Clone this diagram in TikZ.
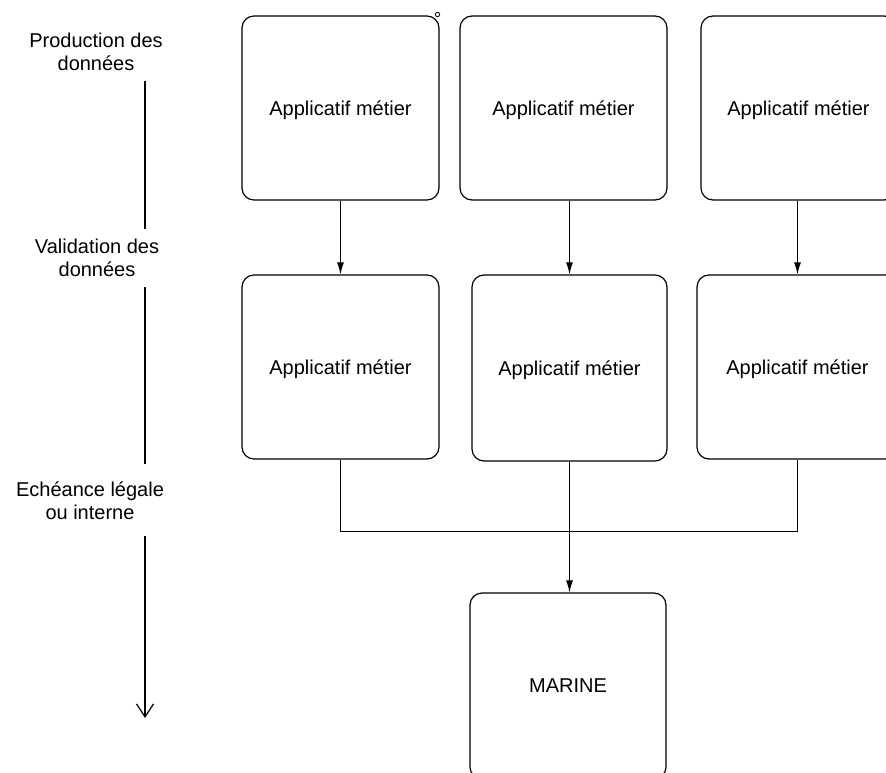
\documentclass[tikz,border=0pt]{standalone}
\usepackage{fontspec}
\setmainfont{Liberation Sans}
\usetikzlibrary{arrows.meta}
\tikzstyle{every node}=[font=\fontsize{20}{23}\selectfont]
\tikzstyle{appli}=[draw=black,line width=1.2pt,rounded corners=12pt,minimum height=184pt,text depth=0pt]
\tikzstyle{etape}=[align=center,inner ysep=10pt]
\tikzstyle{flux}=[line width=1.2pt,-{Latex[length=12pt,width=7pt]}]
\tikzstyle{temps}=[line width=1.2pt]

\begin{document}
\begin{tikzpicture}[x=1pt,y=-1pt]
			\useasboundingbox (0,0) rectangle (886,773);
			\clip (0,0) rectangle (886,773);
			\node [etape] (production) at (96,52) {Production des\\données};
			\node [etape] (validation) at (97,258) {Validation des\\données};
			\node [etape] (echeance) at (90,501) {Echéance légale\\ou interne};
			\coordinate (fin) at (145,718);
			\node [appli,minimum width=197pt] (prod1) at (340.5,108) {Applicatif métier};
			\node [appli,minimum width=207pt] (prod2) at (563.5,108) {Applicatif métier};
			\node [appli,minimum width=195pt] (prod3) at (798.5,108) {Applicatif métier};
			\node [appli,minimum width=197pt] (valid1) at (340.5,367) {Applicatif métier};
			\node [appli,minimum width=195pt,minimum height=186pt] (valid2) at (569.5,368) {Applicatif métier};
			\node [appli,minimum width=201pt] (valid3) at (797.5,367) {Applicatif métier};
			\node [appli,minimum width=196pt,minimum height=186pt] (marine) at (568,686) {MARINE};
			\draw [line width=0.8pt] (437.5,14.5) circle (2.2pt);
			\draw [temps] (production.south -| fin) -- (validation.north -| fin);
			\draw [temps] (validation.south -| fin) -- ([yshift=8pt]echeance.north -| fin);
			\draw [temps,-{Straight Barb[length=13pt,width=17pt]}] ([yshift=-6pt]echeance.south -| fin) -- (fin);
			\draw [flux] (prod1.south) -- (valid1.north);
			\draw [flux] (prod2.south -| valid2.north) -- (valid2.north);
			\draw [flux] (prod3.south -| valid3.north) -- (valid3.north);
			\draw [temps] (valid1.south) -- ++(0,72) -| (valid3.south);
			\draw [flux] (valid2.south) -- (valid2.south |- marine.north);
		\end{tikzpicture}
\end{document}
